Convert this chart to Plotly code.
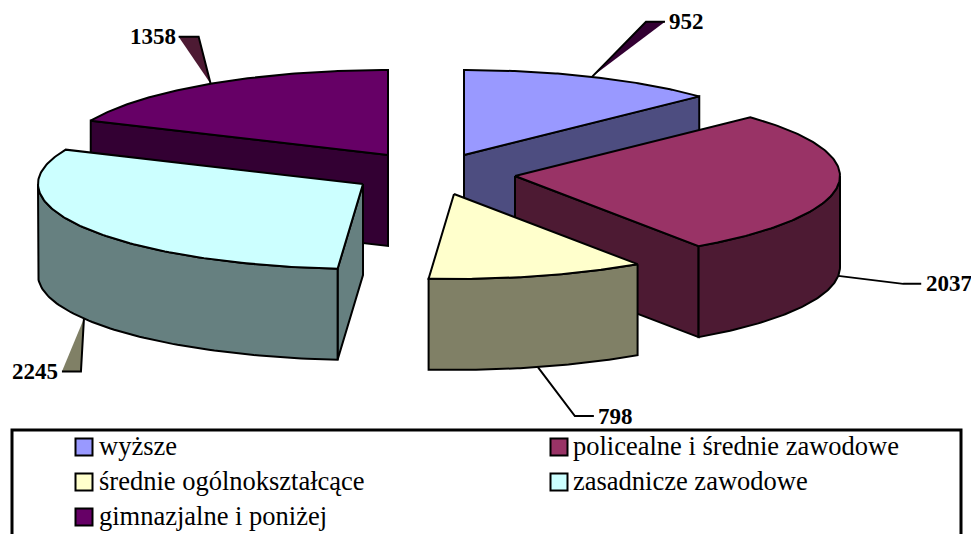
import numpy as np
import plotly.graph_objects as go

categories = ["wyższe", "policealne i średnie zawodowe", "średnie ogólnokształcące",
              "zasadnicze zawodowe", "gimnazjalne i poniżej"]
values = [952, 2037, 798, 2245, 1358]
top_colors = ["#9999FF", "#993366", "#FFFFCC", "#CCFFFF", "#660066"]
side_colors = ["#4D4D80", "#4D1A33", "#808066", "#668080", "#330033"]

# projection of the tilted pie on the page
RX, RY, DEPTH = 325, 85, 91
apexes = [(464, 155), (515, 176), (454, 194), (363, 184), (388, 155)]  # exploded slice apexes
draw_order = [4, 0, 1, 3, 2]
# leader: bend offset, end offset from slice label anchor, fill colour or None
leaders = [((54, -55), (73, -55), "#330033"),
           ((65, 8), (83, 8), None),
           ((37, 49), (56, 49), None),
           ((-3, 53), (-22, 53), "#808066"),
           ((-12, -47), (-32, -47), "#4D1A33")]
label_anchor = [("left", 2), ("left", 3), ("left", 2), ("right", -2), ("right", -1)]

LINE = dict(color="black", width=2)
FONT = "Liberation Serif"

total = sum(values)
edges = np.radians(np.concatenate([[0], np.cumsum(values)])) * 360 / total


def ellipse(ap, ang, drop=0):
    return ap[0] + RX * np.sin(ang), ap[1] - RY * np.cos(ang) + drop


fig = go.Figure()


def poly(xs, ys, fill):
    fig.add_trace(go.Scatter(x=list(xs), y=list(ys), mode="lines", fill="toself", fillcolor=fill,
                             line=LINE, hoverinfo="skip", showlegend=False))


for i in draw_order:
    ap = apexes[i]
    a, b = edges[i], edges[i + 1]
    # cut faces that look toward the viewer
    for ang, visible in ((a, np.sin(a) < -1e-6), (b, np.sin(b) > 1e-6)):
        if visible:
            ex, ey = ellipse(ap, ang)
            poly([ap[0], ex, ex, ap[0], ap[0]], [ap[1], ey, ey + DEPTH, ap[1] + DEPTH, ap[1]], side_colors[i])
    # rim
    lo, hi = max(a, np.pi / 2), min(b, 3 * np.pi / 2)
    if hi > lo:
        t = np.linspace(lo, hi, 80)
        x, y = ellipse(ap, t)
        poly(np.r_[x, x[::-1], x[0]], np.r_[y, y[::-1] + DEPTH, y[0]], side_colors[i])
    # top
    t = np.linspace(a, b, 120)
    x, y = ellipse(ap, t)
    poly(np.r_[ap[0], x, ap[0]], np.r_[ap[1], y, ap[1]], top_colors[i])

annotations = []
for i, (bend, end, fill) in enumerate(leaders):
    mid = (edges[i] + edges[i + 1]) / 2
    drop = DEPTH if np.cos(mid) < 0 else 0
    sx, sy = ellipse(apexes[i], mid, drop)
    bx, by = sx + bend[0], sy + bend[1]
    ex, ey = sx + end[0], sy + end[1]
    if fill:
        fig.add_trace(go.Scatter(x=[sx, bx, ex, sx], y=[sy, by, ey, sy], mode="lines", fill="toself",
                                 fillcolor=fill, line=dict(width=0), hoverinfo="skip", showlegend=False))
    fig.add_trace(go.Scatter(x=[sx, bx, ex], y=[sy, by, ey], mode="lines", line=LINE,
                             hoverinfo="skip", showlegend=False))
    side, off = label_anchor[i]
    annotations.append(dict(x=ex + off, y=ey, text=f"<b>{values[i]}</b>", showarrow=False, xref="x", yref="y",
                            xanchor=side, yanchor="middle", font=dict(family=FONT, size=23, color="black")))

# legend panel
legend_cols = [(84, 97), (559, 571)]
legend_rows = [447, 482, 517]
shapes = [dict(type="rect", x0=12, y0=430, x1=961, y1=560, xref="x", yref="y",
               line=dict(color="black", width=3), fillcolor="white", layer="below")]
for i, name in enumerate(categories):
    col = legend_cols[i % 2]
    row = legend_rows[i // 2]
    fig.add_trace(go.Scatter(x=[col[0]], y=[row], mode="markers", name=name, showlegend=False, hoverinfo="skip",
                             marker=dict(symbol="square", size=17, color=top_colors[i],
                                         line=dict(color="black", width=2))))
    annotations.append(dict(x=col[1], y=row - 1, text=name, showarrow=False, xref="x", yref="y",
                            xanchor="left", yanchor="middle", font=dict(family=FONT, size=26.5, color="black")))

fig.update_layout(width=971, height=534, margin=dict(l=0, r=0, t=0, b=0), autosize=False,
                  paper_bgcolor="white", plot_bgcolor="white", showlegend=False,
                  xaxis=dict(range=[0, 971], visible=False, fixedrange=True),
                  yaxis=dict(range=[534, 0], visible=False, fixedrange=True),
                  shapes=shapes, annotations=annotations)
fig.write_html("out.html", post_script="document.body.style.margin='0';",
               config={"displayModeBar": False})
